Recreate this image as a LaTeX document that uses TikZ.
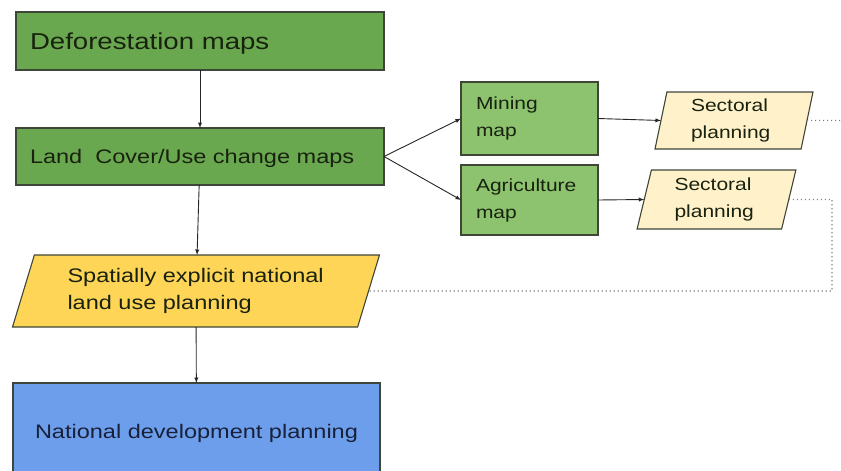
\documentclass[tikz,border=0pt]{standalone}
\usepackage{fontspec}
\setmainfont{Liberation Sans}[FakeStretch=1.2]
\usetikzlibrary{shapes.geometric}

\definecolor{deepgreen}{HTML}{6AA84F}
\definecolor{palegreen}{HTML}{8DC36F}
\definecolor{gold}{HTML}{FFD557}
\definecolor{cream}{HTML}{FFF1C9}
\definecolor{skyblue}{HTML}{6D9EEB}
\definecolor{edge}{HTML}{3D4638}
\definecolor{ink}{HTML}{18220F}
\definecolor{navy}{HTML}{18213A}

\begin{document}
\begin{tikzpicture}[x=1pt, y=-1pt, >=latex]
\tikzset{ inner sep=0pt, outer sep=0pt,
  mapbox/.style={draw=edge, line width=1.1pt, fill=deepgreen, text=ink, align=left},
  wide/.style={text depth=0pt},
  smallbox/.style={mapbox, fill=palegreen, minimum width=137pt, text width=107pt,
                   font=\fontsize{17.5}{27}\selectfont},
  planbox/.style={trapezium, trapezium stretches=true, draw=edge, line width=1.1pt,
                  text=ink, align=left},
  link/.style={->, line width=0.9pt, draw=black!85},
  feedback/.style={draw=gray, line width=1.1pt, dash pattern=on 1.2pt off 2.8pt},
}
\useasboundingbox (0,0) rectangle (841,471);

%\draw [lightgray, dashed](0,0) grid (841,471);

\node [mapbox, wide, minimum width=368pt, minimum height=58pt, text width=340pt,
       font=\fontsize{23}{28}\selectfont] (defor) at (200,41) {Deforestation maps};
\node [mapbox, wide, minimum width=368pt, minimum height=57pt, text width=340pt,
       font=\fontsize{19.6}{27}\selectfont] (landuse) at (200,156.5) {Land\ \ Cover/Use change maps};

\node [planbox, fill=gold, trapezium left angle=69, trapezium right angle=111,
       minimum width=368pt, minimum height=72pt, text width=257pt,
       font=\fontsize{19.6}{27}\selectfont] (spatial) at (196,291)
       {Spatially explicit national\\land use planning};

\node [mapbox, wide, fill=skyblue, text=navy, minimum width=367pt, minimum height=96pt, align=center,
       font=\fontsize{19.6}{27}\selectfont] (national) at (196.5,431) {National development planning};

\node [smallbox, minimum height=73pt] (mining) at (529.5,118.5) {Mining\\map};
\node [smallbox, minimum height=70pt] (agri) at (529.5,200) {Agriculture\\map};

\node [planbox, fill=cream, trapezium left angle=80, trapezium right angle=100,
       minimum width=158pt, minimum height=57pt, text width=86pt,
       font=\fontsize{17.5}{27}\selectfont] (sect1) at (734,120.5) {Sectoral\\planning};
\node [planbox, fill=cream, trapezium left angle=78, trapezium right angle=102,
       minimum width=159pt, minimum height=59pt, text width=84pt,
       font=\fontsize{17.5}{27}\selectfont] (sect2) at (716.5,199.5) {Sectoral\\planning};

\coordinate (rim) at (841,120.5);
\coordinate (bend) at (832,199.5);

\draw [link] (defor)   -- (landuse);
\draw [link] (landuse) -- (spatial);
\draw [link] (spatial) -- (national);

\draw [link] (landuse.east) -- (mining.west);
\draw [link] (landuse.east) -- (agri.west);
\draw [link] (mining.east)  -- (sect1.west);
\draw [link] (agri.east)    -- (sect2.west);

\draw [feedback] (sect1.east) -- (rim);
\draw [feedback] (sect2.east) -- (bend) |- (spatial.east);

\end{tikzpicture}
\end{document}
